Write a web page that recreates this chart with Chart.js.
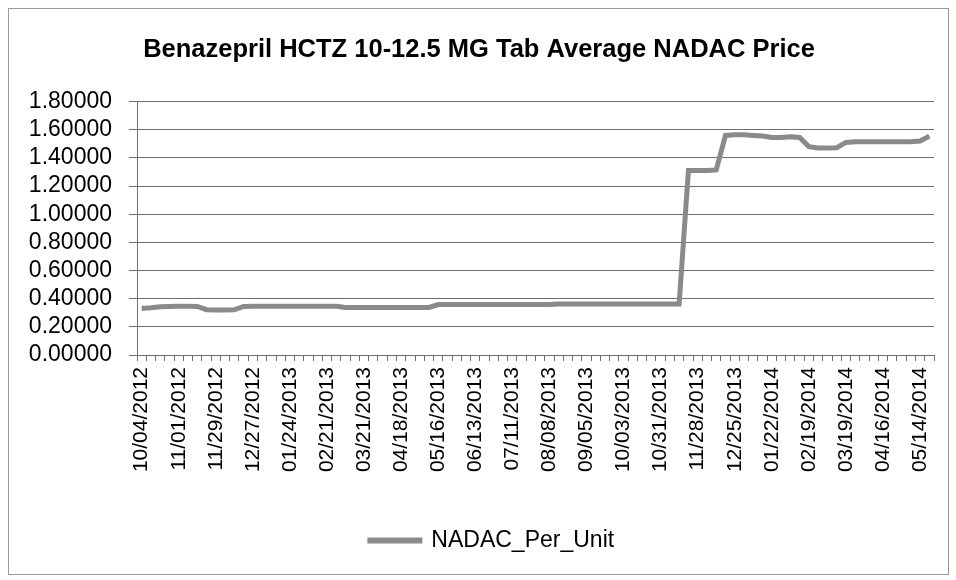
<!DOCTYPE html>
<html>
<head>
<meta charset="utf-8">
<script src="https://cdn.jsdelivr.net/npm/chart.js@4/dist/chart.umd.min.js"></script>
<style>
  html, body { margin: 0; padding: 0; background: #fff; }
  #wrap { position: relative; width: 956px; height: 580px; }
  #frame { position: absolute; left: 8px; top: 8px; width: 939px; height: 565px; border: 1px solid #9a9a9a; pointer-events: none; }
</style>
</head>
<body>
<div id="wrap">
  <canvas id="chart" width="956" height="580"></canvas>
  <div id="frame"></div>
</div>
<script>
// weekly NADAC survey dates (labels shown every 4th week)
const weekDates = [
  '10/04/2012', '10/11/2012', '10/18/2012', '10/25/2012', '11/01/2012', '11/08/2012', '11/15/2012', '11/22/2012',
  '11/29/2012', '12/06/2012', '12/13/2012', '12/20/2012', '12/27/2012', '01/03/2013', '01/10/2013', '01/17/2013',
  '01/24/2013', '01/31/2013', '02/07/2013', '02/14/2013', '02/21/2013', '02/28/2013', '03/07/2013', '03/14/2013',
  '03/21/2013', '03/28/2013', '04/04/2013', '04/11/2013', '04/18/2013', '04/25/2013', '05/02/2013', '05/09/2013',
  '05/16/2013', '05/23/2013', '05/30/2013', '06/06/2013', '06/13/2013', '06/20/2013', '06/27/2013', '07/04/2013',
  '07/11/2013', '07/18/2013', '07/25/2013', '08/01/2013', '08/08/2013', '08/15/2013', '08/22/2013', '08/29/2013',
  '09/05/2013', '09/12/2013', '09/19/2013', '09/26/2013', '10/03/2013', '10/10/2013', '10/17/2013', '10/24/2013',
  '10/31/2013', '11/07/2013', '11/14/2013', '11/21/2013', '11/28/2013', '12/05/2013', '12/12/2013', '12/18/2013',
  '12/25/2013', '01/01/2014', '01/08/2014', '01/15/2014', '01/22/2014', '01/29/2014', '02/05/2014', '02/12/2014',
  '02/19/2014', '02/26/2014', '03/05/2014', '03/12/2014', '03/19/2014', '03/26/2014', '04/02/2014', '04/09/2014',
  '04/16/2014', '04/23/2014', '04/30/2014', '05/07/2014', '05/14/2014', '05/21/2014'
];

// NADAC per unit
const nadacPerUnit = [
  0.330, 0.335, 0.342, 0.345, 0.347, 0.347, 0.345, 0.322, 0.320, 0.320, 0.321, 0.345,
  0.347, 0.347, 0.347, 0.347, 0.347, 0.347, 0.347, 0.347, 0.347, 0.347,
  0.338, 0.338, 0.338, 0.338, 0.338, 0.338, 0.338, 0.338, 0.338, 0.338,
  0.358, 0.358, 0.358, 0.358, 0.358, 0.358, 0.358, 0.358, 0.358, 0.358, 0.358, 0.358, 0.358,
  0.362, 0.362, 0.362, 0.362, 0.362, 0.362, 0.362, 0.362, 0.362, 0.362, 0.362, 0.362, 0.362, 0.362,
  1.310, 1.310, 1.310, 1.315,
  1.560, 1.565, 1.565, 1.560, 1.555, 1.545, 1.545, 1.550, 1.545, 1.480, 1.470, 1.470,
  1.472, 1.510, 1.515, 1.515, 1.515, 1.515, 1.515, 1.515, 1.515, 1.520, 1.555
];

const yTicks = [0, 0.2, 0.4, 0.6, 0.8, 1.0, 1.2, 1.4, 1.6, 1.8];

const chartTitle = 'Benazepril HCTZ 10-12.5 MG Tab Average NADAC Price';
const seriesName = 'NADAC_Per_Unit';

const fontFamily = '"Liberation Sans", Arial, sans-serif';
const gridColor = '#6e6e6e';

const dataset = {
    label: seriesName,
    data: nadacPerUnit,
    borderColor: '#8a8a8a',
    backgroundColor: '#8a8a8a',
    borderWidth: 5,
    pointRadius: 0,
    tension: 0,
    fill: false
};

// nudge the legend a bit to the right, like the original
const legendShift = {
    id: 'legendShift',
    afterLayout: (chart) => {
        chart.legend.left += 13;
        chart.legend.right += 13;
    }
};

const ctx = document.getElementById('chart').getContext('2d');

new Chart(ctx, {
    type: 'line',
    data: {
        labels: weekDates,
        datasets: [dataset]
    },
    plugins: [legendShift],
    options: {
        responsive: false,
        animation: false,
        events: [],
        layout: { padding: { left: 24, right: 22, top: 0, bottom: 18 } },
        plugins: {
            title: {
                display: true,
                text: chartTitle,
                color: '#000',
                font: { family: fontFamily, size: 25.5, weight: 'bold' },
                padding: { top: 35, bottom: 36 }
            },
            legend: {
                position: 'bottom',
                labels: {
                    color: '#000',
                    font: { family: fontFamily, size: 23 },
                    boxWidth: 50,
                    boxHeight: 1,
                    padding: 10
                }
            },
            tooltip: { enabled: false }
        },
        scales: {
            x: {
                offset: true,
                grid: {
                    offset: true,
                    drawOnChartArea: false,
                    drawTicks: true,
                    tickLength: 6,
                    color: gridColor
                },
                border: { color: gridColor },
                ticks: {
                    autoSkip: false,
                    maxRotation: 90,
                    minRotation: 90,
                    padding: 6,
                    color: '#000',
                    font: { family: fontFamily, size: 21 },
                    callback: (val, i) => (i % 4 === 0 ? weekDates[i] : '')
                },
                afterFit: (scale) => { scale.height = 164; scale.paddingRight = 0; }
            },
            y: {
                min: 0,
                max: 1.8,
                afterBuildTicks: (scale) => { scale.ticks = yTicks.map(v => ({ value: v })); },
                grid: { color: gridColor, tickLength: 8 },
                border: { color: gridColor },
                ticks: {
                    autoSkip: false,
                    padding: 17,
                    color: '#000',
                    font: { family: fontFamily, size: 23 },
                    callback: (v) => Number(v).toFixed(5)
                },
                afterFit: (scale) => { scale.width = 113; }
            }
        }
    }
});
</script>
</body>
</html>
